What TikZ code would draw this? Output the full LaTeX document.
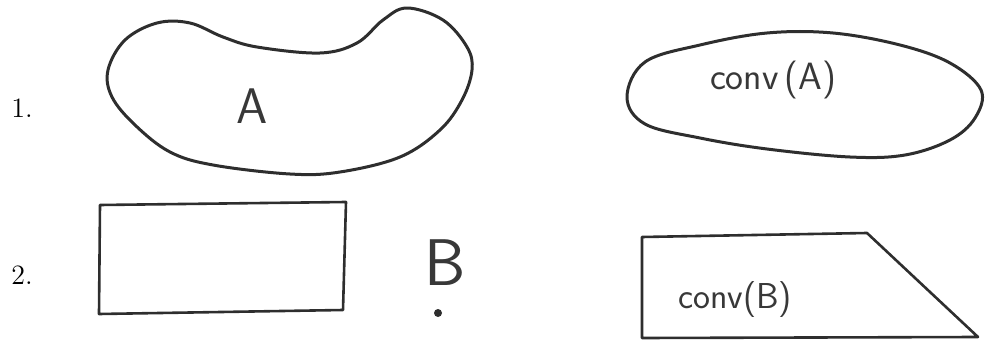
\documentclass[tikz,border=0pt]{standalone}
\usepackage{fontspec}
\usetikzlibrary{positioning}

\begin{document}
\begin{tikzpicture}[
  x=0.5pt,y=-0.5pt,
  outline/.style={draw=black!82,line width=1.5pt,line join=round},
  num/.style={inner sep=0pt,font=\fontsize{14}{16}\selectfont},
  hand/.style={inner sep=0pt,text=black!78,font=\sffamily\fontsize{19}{21}\selectfont},
  bighand/.style={hand,font=\sffamily\fontsize{25}{27}\selectfont}
]
\useasboundingbox (0,0) rectangle (985,342);
% row 1
\node[num] (one) at (22,108) {1.};
\draw[outline] plot[smooth cycle,tension=0.6] coordinates {
  (108,70) (125,40) (157,23) (190,23) (223,37) (257,47) (320,53)
  (357,43) (383,20) (407,8) (443,20) (467,47) (472,70) (462,100)
  (440,130) (400,157) (340,172) (290,174) (213,165) (170,152)
  (135,125) (112,97)};
\node[bighand] (A) at (252,106) {A};
\draw[outline] plot[smooth cycle,tension=0.6] coordinates {
  (627,97) (645,62) (700,45) (767,33) (833,33) (900,45) (950,63)
  (981,90) (975,118) (950,140) (905,155) (850,157) (767,149)
  (700,138) (645,124)};
\node[hand] (convA) at (773,80) {conv$\,$(A)};
% row 2
\node[num] (two) at (22,275) {2.};
\draw[outline,line width=1.3pt] (100,205) -- (346,202) -- (343,310) -- (99,314) -- cycle;
\node[bighand,font=\sffamily\fontsize{33}{35}\selectfont] (B) at (445,263) {B};
\fill[black!82] (438,313) circle (4);
\draw[outline,line width=1.3pt] (642,237) -- (867,233) -- (978,337) -- (642,338) -- cycle;
\node[hand,font=\sffamily\fontsize{18}{20}\selectfont] (convB) at (735,300) {conv(B)};
\end{tikzpicture}
\end{document}
